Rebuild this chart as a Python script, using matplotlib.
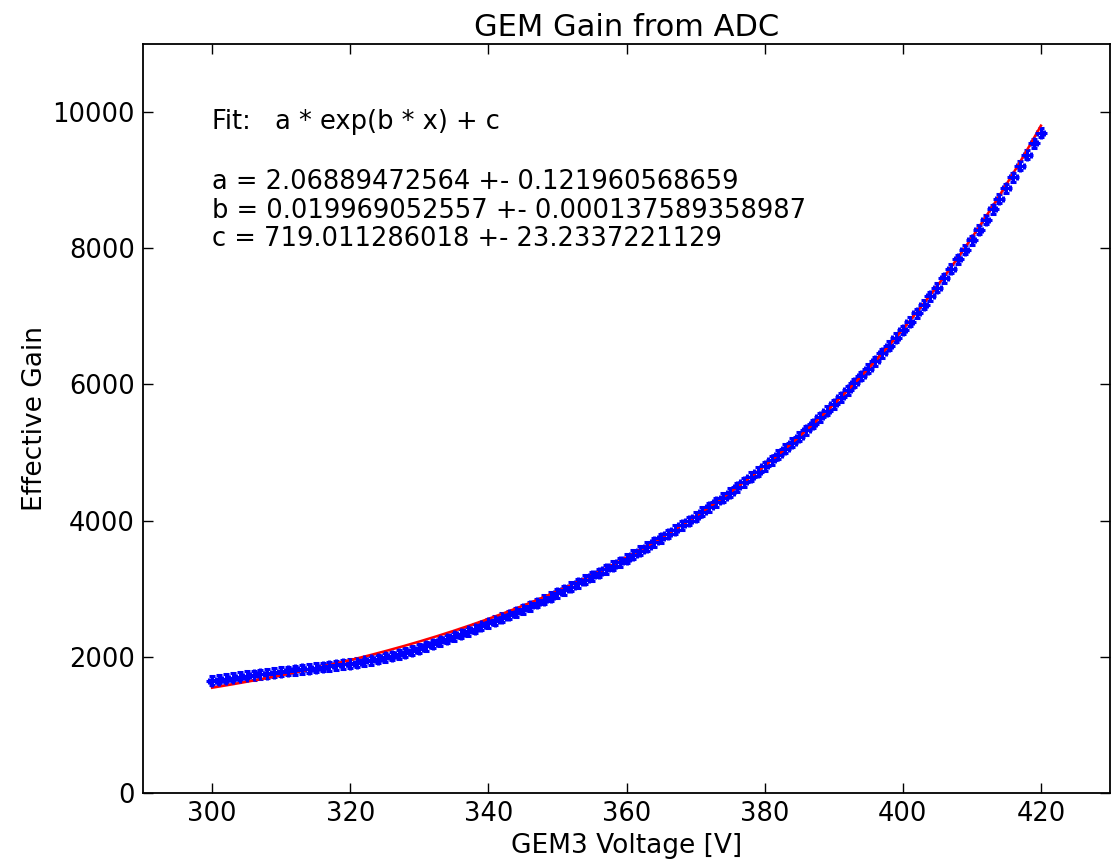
import numpy as np
import matplotlib
matplotlib.use("Agg")
import matplotlib.pyplot as plt

voltage = list(range(300, 421))
gain = [
    1650, 1665, 1680, 1695, 1705, 1720,
    1730, 1742, 1755, 1768, 1780,
    1792, 1803, 1815, 1828, 1840,
    1851, 1863, 1875, 1888, 1900,
    1915, 1932, 1950, 1968, 1990,
    2012, 2036, 2062, 2090, 2120,
    2155, 2188, 2225, 2262, 2300,
    2337, 2375, 2414, 2452, 2490,
    2530, 2572, 2614, 2657, 2700,
    2745, 2791, 2837, 2884, 2930,
    2980, 3030, 3080, 3130, 3180,
    3231, 3283, 3335, 3388, 3440,
    3498, 3557, 3618, 3679, 3740,
    3803, 3867, 3931, 3995, 4060,
    4128, 4197, 4268, 4339, 4410,
    4487, 4564, 4642, 4721, 4800,
    4885, 4970, 5057, 5143, 5230,
    5325, 5420, 5516, 5613, 5710,
    5813, 5917, 6021, 6125, 6230,
    6343, 6457, 6571, 6685, 6800,
    6922, 7045, 7170, 7295, 7420,
    7560, 7700, 7840, 7980, 8120,
    8270, 8420, 8575, 8728, 8880,
    9045, 9210, 9375, 9540, 9700,
]

# fit parameters (from the annotation)
a, a_err = 2.06889472564, 0.121960568659
b, b_err = 0.019969052557, 0.000137589358987
c, c_err = 719.011286018, 23.2337221129

fig = plt.figure(figsize=(11.19, 8.65), dpi=100)
ax = fig.add_axes([143 / 1119, 1 - 793 / 865, (1110 - 143) / 1119, (793 - 44) / 865])

ax.errorbar(voltage, gain, xerr=0.5, yerr=65, fmt='b+', ms=9, mew=2.2,
            elinewidth=2.2, capsize=2, capthick=2, ecolor='b')

xfit = np.linspace(300, 420, 200)
ax.plot(xfit, a * np.exp(b * xfit) + c, color='r', lw=1.8)

ax.set_xlim(290, 430)
ax.set_ylim(0, 11000)
ax.set_xticks(range(300, 421, 20))
ax.set_yticks(range(0, 10001, 2000))
ax.tick_params(direction='in', top=True, right=True, length=7, width=1, labelsize=18.5, pad=6)
for s in ax.spines.values():
    s.set_linewidth(1.3)

ax.set_title("GEM Gain from ADC", fontsize=22, pad=6)
ax.set_xlabel("GEM3 Voltage [V]", fontsize=19, labelpad=4)
ax.set_ylabel("Effective Gain", fontsize=19, labelpad=3)

ax.text(300, 9850, "Fit:   a * exp(b * x) + c", fontsize=18.5, va='center')
ax.text(300, 8970, "a = %s +- %s" % (repr(a), repr(a_err)), fontsize=18.5, va='center')
ax.text(300, 8550, "b = %s +- %s" % (repr(b), repr(b_err)), fontsize=18.5, va='center')
ax.text(300, 8130, "c = %s +- %s" % (repr(c), repr(c_err)), fontsize=18.5, va='center')

fig.savefig("out.png", dpi=100)
